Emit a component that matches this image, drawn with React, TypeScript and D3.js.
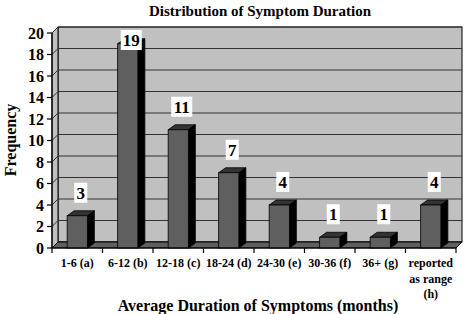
import React from "react";
import * as d3 from "d3";

const categories = ["1-6 (a)", "6-12 (b)", "12-18 (c)", "18-24 (d)", "24-30 (e)", "30-36 (f)", "36+ (g)", "reported as range (h)"];
const categoryLines = [["1-6 (a)"], ["6-12 (b)"], ["12-18 (c)"], ["18-24 (d)"], ["24-30 (e)"], ["30-36 (f)"], ["36+ (g)"], ["reported", "as range", "(h)"]];
const frequencies = [3, 19, 11, 7, 4, 1, 1, 4];
const yTicks = [0, 2, 4, 6, 8, 10, 12, 14, 16, 18, 20];

const FONT = "'Liberation Serif', 'Times New Roman', serif";

export default function App() {
  const W = 464, H = 314;
  const y = d3.scaleLinear().domain([0, 20]).range([248, 33]);
  const x = d3.scaleBand<string>().domain(categories).range([52, 456]).padding(0);
  const bw = x.bandwidth();
  const wdx = 6, wdy = -6; // wall depth
  const bdx = 7, bdy = -5; // bar depth
  const left = 52, right = 456;
  const y0 = y(0);
  const yTop = y(20);

  const pts = (arr: [number, number][]) => arr.map((p) => p.join(",")).join(" ");

  return (
    <svg width={W} height={H} style={{ position: "absolute", left: 0, top: 0, background: "#fff" }} fontFamily={FONT}>
      {/* back wall */}
      <rect x={left + wdx} y={yTop + wdy} width={right - left} height={y0 - yTop} fill="#c0c0c0" stroke="#000" strokeWidth={1} />
      {/* left wall */}
      <polygon points={pts([[left, y0], [left, yTop], [left + wdx, yTop + wdy], [left + wdx, y0 + wdy]])} fill="#c0c0c0" stroke="#000" strokeWidth={1} />
      {/* gridlines */}
      {yTicks.map((t) => (
        <g key={"g" + t}>
          <line x1={left + wdx} x2={right + wdx} y1={y(t) + wdy} y2={y(t) + wdy} stroke="#333" strokeWidth={1} />
          <line x1={left} x2={left + wdx} y1={y(t)} y2={y(t) + wdy} stroke="#333" strokeWidth={1} />
        </g>
      ))}
      {/* floor */}
      <polygon points={pts([[left, y0], [right, y0], [right + wdx, y0 + wdy], [left + wdx, y0 + wdy]])} fill="#5f5f5f" stroke="#000" strokeWidth={1} />
      {/* bars */}
      {categories.map((c, i) => {
        const v = frequencies[i];
        const bx = (x(c) as number) + bw * 0.3;
        const w = bw * 0.4;
        const ty = y(v);
        return (
          <g key={"b" + c}>
            <polygon points={pts([[bx, ty], [bx + w, ty], [bx + w + bdx, ty + bdy], [bx + bdx, ty + bdy]])} fill="#333" stroke="#000" strokeWidth={0.8} />
            <polygon points={pts([[bx + w, ty], [bx + w + bdx, ty + bdy], [bx + w + bdx, y0 + bdy], [bx + w, y0]])} fill="#000" stroke="#000" strokeWidth={0.8} />
            <rect x={bx} y={ty} width={w} height={y0 - ty} fill="#5f5f5f" stroke="#000" strokeWidth={0.8} />
          </g>
        );
      })}
      {/* value labels */}
      {categories.map((c, i) => {
        const v = frequencies[i];
        const cx = (x(c) as number) + bw / 2 + bdx / 2;
        const cy = Math.max(y(v) - 23, 40);
        const s = String(v);
        const bwid = s.length * 8 + 5;
        return (
          <g key={"l" + c}>
            <rect x={cx - bwid / 2} y={cy - 10} width={bwid} height={20} fill="#fff" />
            <text x={cx} y={cy} dy="0.35em" textAnchor="middle" fontWeight="bold" fontSize={17}>{s}</text>
          </g>
        );
      })}
      {/* y axis */}
      <line x1={left} x2={left} y1={yTop} y2={y0} stroke="#000" strokeWidth={1.2} />
      {yTicks.map((t) => (
        <g key={"t" + t}>
          <line x1={left - 5} x2={left} y1={y(t)} y2={y(t)} stroke="#000" strokeWidth={1.2} />
          <text x={left - 8} y={y(t)} dy="0.35em" textAnchor="end" fontWeight="bold" fontSize={16}>{t}</text>
        </g>
      ))}
      {/* x axis */}
      <line x1={left} x2={right} y1={y0} y2={y0} stroke="#000" strokeWidth={1.2} />
      {categories.concat(["__end"]).map((c, i) => {
        const tx = left + i * bw;
        return <line key={"xt" + i} x1={tx} x2={tx} y1={y0} y2={y0 + 5} stroke="#000" strokeWidth={1.2} />;
      })}
      {categories.map((c, i) => (
        <text key={"xl" + c} x={(x(c) as number) + bw / 2} y={263} textAnchor="middle" fontWeight="bold" fontSize={12}>
          {categoryLines[i].map((ln, j) => (
            <tspan key={j} x={(x(c) as number) + bw / 2} y={263 + j * 15.5} dy="0.35em">{ln}</tspan>
          ))}
        </text>
      ))}
      {/* titles */}
      <text x={260} y={11} dy="0.35em" textAnchor="middle" fontWeight="bold" fontSize={15}>Distribution of Symptom Duration</text>
      <text x={258} y={305} dy="0.35em" textAnchor="middle" fontWeight="bold" fontSize={16}>Average Duration of Symptoms (months)</text>
      <text transform={`translate(10,140) rotate(-90)`} dy="0.35em" textAnchor="middle" fontWeight="bold" fontSize={16}>Frequency</text>
    </svg>
  );
}
